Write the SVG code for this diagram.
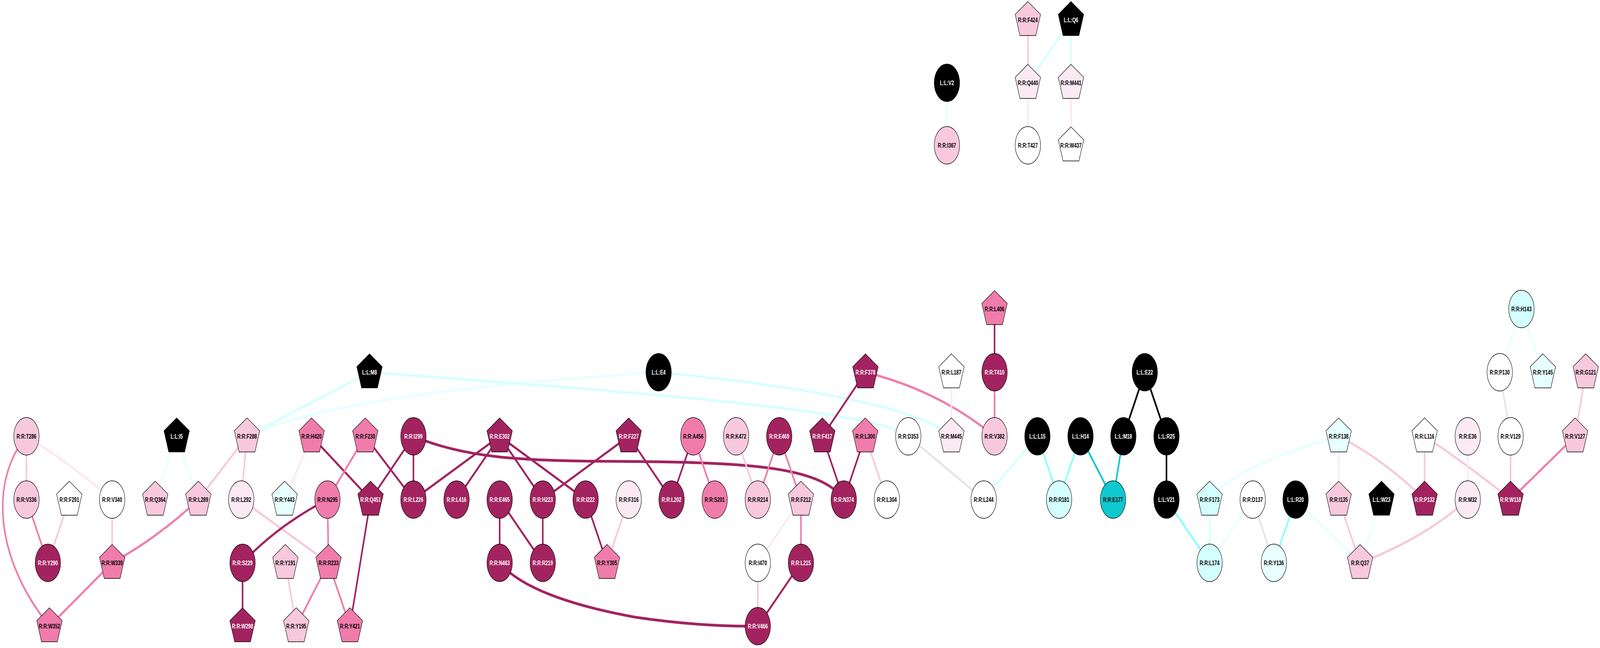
<svg xmlns="http://www.w3.org/2000/svg" xmlns:xlink="http://www.w3.org/1999/xlink" width="6049" height="1659" viewBox="0 0 6049 1659" preserveAspectRatio="none">
<style>
svg{width:100vw;height:100vh;overflow:hidden}
.e{fill:none;stroke-width:6}
.dk{stroke:#A2235F}.mp{stroke:#F07CAB}.lp{stroke:#F8C8DC}.vlp{stroke:#FCE8F1}
.gy{stroke:#E5E5E5}.c{stroke:#88FFFF}.lc{stroke:#D4FFFF}.vlc{stroke:#E6FFFF}.tl{stroke:#10C8D0}.bk{stroke:#000}
.n ellipse,.n use{stroke:#000;stroke-width:1.5}
.fdk{fill:#A2235F}.fmp{fill:#F07CAB}.flp{fill:#F8C8DC}.fvlp{fill:#FCEAF2}.fw{fill:#FFFFFF}
.flc{fill:#D4FFFF}.fvlc{fill:#E8FFFF}.ftl{fill:#10C8D0}.fbk{fill:#000}
text{font-family:"Liberation Sans",Arial,sans-serif;font-weight:bold;font-size:17px;text-anchor:middle;fill:#000}
text.w{fill:#FFF}
</style>
<defs>
<polygon id="pent" points="0,-47 48,-14 30,40 -30,40 -48,-14"/>
</defs>
<rect width="6049" height="1659" fill="#FFF"/>
<g id="edges">
<path class="e lp" d="M100,1117 L100,1279"/>
<path class="e vlp" d="M100,1117 Q262,1185 424,1279"/>
<path class="e mp" d="M100,1117 C-40,1230 -20,1430 187,1603"/>
<path class="e mp" d="M100,1279 L181,1441"/>
<path class="e lp" d="M262,1279 L181,1441"/>
<path class="e lp" d="M424,1279 L424,1441"/>
<path class="e mp" d="M424,1441 L187,1603"/>
<path class="e mp" d="M750,1279 Q600,1375 424,1441"/>
<path class="e vlc" d="M668,1117 L587,1279"/>
<path class="e vlc" d="M668,1117 L750,1279"/>
<path class="e lp" d="M934,1117 L750,1279"/>
<path class="e lp" d="M934,1117 L912,1279"/>
<path class="e lc" d="M1397,953 L934,1117"/>
<path class="e vlc" d="M2490,953 C2000,975 1250,1015 934,1117"/>
<path class="e lc" d="M1397,953 C2300,1000 3300,1045 3434,1117"/>
<path class="e lc" d="M2490,953 C2900,980 3450,1030 3597,1117"/>
<path class="e vlp" d="M1178,1117 L1076,1279"/>
<path class="e dk" d="M1178,1117 L1401,1279"/>
<path class="e mp" d="M1381,1117 L1238,1279"/>
<path class="e dk" d="M1381,1117 L1563,1279"/>
<path class="e dk" d="M1563,1117 L1401,1279"/>
<path class="e dk" d="M1563,1117 L1563,1279"/>
<path class="e lp" d="M912,1279 L1242,1441"/>
<path class="e dk" d="M1238,1279 Q1050,1345 917,1441"/>
<path class="e mp" d="M1238,1279 L1242,1441"/>
<path class="e dk" d="M1401,1279 L1323,1603"/>
<path class="e dk" d="M917,1441 L917,1603"/>
<path class="e lp" d="M1079,1441 L1120,1603"/>
<path class="e mp" d="M1242,1441 L1120,1603"/>
<path class="e mp" d="M1242,1441 L1323,1603"/>
<path class="e dk" d="M1889,1117 L1563,1279"/>
<path class="e dk" d="M1889,1117 L1726,1279"/>
<path class="e dk" d="M1889,1117 L2052,1279"/>
<path class="e dk" d="M1889,1117 L2214,1279"/>
<path class="e dk" style="stroke-width:7" d="M1563,1117 C1750,1170 1950,1180 2300,1181 C2800,1183 3100,1190 3190,1279"/>
<path class="e dk" d="M2377,1117 L2052,1279"/>
<path class="e dk" d="M1889,1279 L1889,1441"/>
<path class="e dk" d="M1889,1279 L2052,1441"/>
<path class="e dk" d="M2052,1279 L2052,1441"/>
<path class="e dk" d="M2214,1279 L2295,1441"/>
<path class="e lp" d="M2377,1279 L2295,1441"/>
<path class="e dk" style="stroke-width:7" d="M1889,1441 Q2000,1530 2400,1580 Q2650,1605 2865,1603"/>
<path class="e dk" d="M2377,1117 L2539,1279"/>
<path class="e dk" d="M2621,1117 L2539,1279"/>
<path class="e mp" d="M2621,1117 L2702,1279"/>
<path class="e lp" d="M2783,1117 L2865,1279"/>
<path class="e mp" d="M2946,1117 L2865,1279"/>
<path class="e mp" d="M2946,1117 L3028,1279"/>
<path class="e dk" d="M3109,1117 L3190,1279"/>
<path class="e dk" d="M3272,953 L3109,1117"/>
<path class="e vlp" d="M3028,1279 L2865,1441"/>
<path class="e mp" d="M3028,1279 L3028,1441"/>
<path class="e lp" d="M2865,1441 L2865,1603"/>
<path class="e dk" d="M3028,1441 L2865,1603"/>
<path class="e dk" d="M3271,1117 L3190,1279"/>
<path class="e lp" d="M3271,1117 L3353,1279"/>
<path class="e gy" d="M3434,1117 L3719,1279"/>
<path class="e lc" d="M3922,1117 L3719,1279"/>
<path class="e c" d="M3922,1117 L4004,1279"/>
<path class="e mp" d="M3272,953 Q3550,1000 3760,1117"/>
<path class="e dk" d="M3760,791 L3760,953"/>
<path class="e mp" d="M3760,953 L3760,1117"/>
<path class="e vlp" d="M3597,953 L3597,1117"/>
<path class="e bk" d="M4328,953 L4247,1117"/>
<path class="e bk" d="M4328,953 L4410,1117"/>
<path class="e c" d="M4085,1117 L4004,1279"/>
<path class="e tl" d="M4085,1117 L4208,1279"/>
<path class="e tl" d="M4247,1117 L4208,1279"/>
<path class="e bk" d="M4410,1117 L4410,1279"/>
<path class="e c" d="M4410,1279 L4573,1441"/>
<path class="e lc" d="M4573,1279 L4573,1441"/>
<path class="e vlc" d="M4736,1279 L4573,1441"/>
<path class="e gy" d="M4736,1279 L4816,1441"/>
<path class="e vlc" d="M4573,1279 Q4660,1195 5061,1117"/>
<path class="e vlp" d="M5061,1117 L5061,1279"/>
<path class="e lp" d="M5061,1117 Q5235,1178 5386,1279"/>
<path class="e lp" d="M5386,1117 L5386,1279"/>
<path class="e lp" d="M5386,1117 Q5560,1195 5711,1279"/>
<path class="e vlp" d="M5549,1117 L5549,1279"/>
<path class="e c" d="M4898,1279 L4816,1441"/>
<path class="e vlc" d="M4898,1279 L5142,1441"/>
<path class="e lp" d="M5061,1279 L5142,1441"/>
<path class="e vlc" d="M5223,1279 L5142,1441"/>
<path class="e lp" d="M5549,1279 Q5380,1380 5142,1441"/>
<path class="e vlc" d="M5752,791 L5670,953"/>
<path class="e vlc" d="M5752,791 L5833,953"/>
<path class="e gy" d="M5670,953 L5711,1117"/>
<path class="e lp" d="M5711,1117 L5711,1279"/>
<path class="e lp" d="M5995,953 L5955,1117"/>
<path class="e mp" d="M5955,1117 L5711,1279"/>
<path class="e vlc" d="M3580,212 L3580,372"/>
<path class="e lp" d="M3886,51 L3886,212"/>
<path class="e lc" d="M4049,51 L3886,212"/>
<path class="e lc" d="M4049,51 L4049,212"/>
<path class="e vlp" d="M3886,212 L3886,372"/>
<path class="e vlp" d="M4049,212 L4049,372"/>
</g>
<g id="n-T286" class="n" transform="translate(100,1117)"><ellipse rx="48" ry="48" class="flp"/><text dy="6">R:R:T286</text></g>
<g id="n-V336" class="n" transform="translate(100,1279)"><ellipse rx="48" ry="48" class="flp"/><text dy="6">R:R:V336</text></g>
<g id="n-F291" class="n" transform="translate(262,1279)"><use xlink:href="#pent" class="fw"/><text dy="6">R:R:F291</text></g>
<g id="n-V340" class="n" transform="translate(424,1279)"><ellipse rx="48" ry="48" class="fw"/><text dy="6">R:R:V340</text></g>
<g id="n-Q364" class="n" transform="translate(587,1279)"><use xlink:href="#pent" class="flp"/><text dy="6">R:R:Q364</text></g>
<g id="n-L289" class="n" transform="translate(750,1279)"><use xlink:href="#pent" class="flp"/><text dy="6">R:R:L289</text></g>
<g id="n-I5" class="n" transform="translate(668,1117)"><use xlink:href="#pent" class="fbk"/><text dy="6" class="w">L:L:I5</text></g>
<g id="n-Y290" class="n" transform="translate(181,1441)"><ellipse rx="48" ry="48" class="fdk"/><text dy="6" class="w">R:R:Y290</text></g>
<g id="n-W339" class="n" transform="translate(424,1441)"><use xlink:href="#pent" class="fmp"/><text dy="6">R:R:W339</text></g>
<g id="n-W352" class="n" transform="translate(187,1603)"><use xlink:href="#pent" class="fmp"/><text dy="6">R:R:W352</text></g>
<g id="n-F288" class="n" transform="translate(934,1117)"><use xlink:href="#pent" class="flp"/><text dy="6">R:R:F288</text></g>
<g id="n-H420" class="n" transform="translate(1178,1117)"><use xlink:href="#pent" class="fmp"/><text dy="6">R:R:H420</text></g>
<g id="n-F230" class="n" transform="translate(1381,1117)"><use xlink:href="#pent" class="fmp"/><text dy="6">R:R:F230</text></g>
<g id="n-I299" class="n" transform="translate(1563,1117)"><ellipse rx="48" ry="48" class="fdk"/><text dy="6" class="w">R:R:I299</text></g>
<g id="n-L292" class="n" transform="translate(912,1279)"><ellipse rx="48" ry="48" class="fvlp"/><text dy="6">R:R:L292</text></g>
<g id="n-Y443" class="n" transform="translate(1076,1279)"><use xlink:href="#pent" class="fvlc"/><text dy="6">R:R:Y443</text></g>
<g id="n-N295" class="n" transform="translate(1238,1279)"><ellipse rx="48" ry="48" class="fmp"/><text dy="6">R:R:N295</text></g>
<g id="n-Q451" class="n" transform="translate(1401,1279)"><use xlink:href="#pent" class="fdk"/><text dy="6" class="w">R:R:Q451</text></g>
<g id="n-L226" class="n" transform="translate(1563,1279)"><ellipse rx="48" ry="48" class="fdk"/><text dy="6" class="w">R:R:L226</text></g>
<g id="n-S229" class="n" transform="translate(917,1441)"><ellipse rx="48" ry="48" class="fdk"/><text dy="6" class="w">R:R:S229</text></g>
<g id="n-Y191" class="n" transform="translate(1079,1441)"><use xlink:href="#pent" class="flp"/><text dy="6">R:R:Y191</text></g>
<g id="n-R233" class="n" transform="translate(1242,1441)"><use xlink:href="#pent" class="fmp"/><text dy="6">R:R:R233</text></g>
<g id="n-W298" class="n" transform="translate(917,1603)"><use xlink:href="#pent" class="fdk"/><text dy="6" class="w">R:R:W298</text></g>
<g id="n-Y195" class="n" transform="translate(1120,1603)"><use xlink:href="#pent" class="flp"/><text dy="6">R:R:Y195</text></g>
<g id="n-Y421" class="n" transform="translate(1323,1603)"><use xlink:href="#pent" class="fmp"/><text dy="6">R:R:Y421</text></g>
<g id="n-E302" class="n" transform="translate(1889,1117)"><use xlink:href="#pent" class="fdk"/><text dy="6" class="w">R:R:E302</text></g>
<g id="n-F227" class="n" transform="translate(2377,1117)"><use xlink:href="#pent" class="fdk"/><text dy="6" class="w">R:R:F227</text></g>
<g id="n-L416" class="n" transform="translate(1726,1279)"><ellipse rx="48" ry="48" class="fdk"/><text dy="6" class="w">R:R:L416</text></g>
<g id="n-E465" class="n" transform="translate(1889,1279)"><ellipse rx="48" ry="48" class="fdk"/><text dy="6" class="w">R:R:E465</text></g>
<g id="n-H223" class="n" transform="translate(2052,1279)"><ellipse rx="48" ry="48" class="fdk"/><text dy="6" class="w">R:R:H223</text></g>
<g id="n-I222" class="n" transform="translate(2214,1279)"><ellipse rx="48" ry="48" class="fdk"/><text dy="6" class="w">R:R:I222</text></g>
<g id="n-F316" class="n" transform="translate(2377,1279)"><ellipse rx="48" ry="48" class="fvlp"/><text dy="6">R:R:F316</text></g>
<g id="n-N463" class="n" transform="translate(1889,1441)"><ellipse rx="48" ry="48" class="fdk"/><text dy="6" class="w">R:R:N463</text></g>
<g id="n-R219" class="n" transform="translate(2052,1441)"><ellipse rx="48" ry="48" class="fdk"/><text dy="6" class="w">R:R:R219</text></g>
<g id="n-Y305" class="n" transform="translate(2295,1441)"><use xlink:href="#pent" class="fmp"/><text dy="6">R:R:Y305</text></g>
<g id="n-A456" class="n" transform="translate(2621,1117)"><ellipse rx="48" ry="48" class="fmp"/><text dy="6">R:R:A456</text></g>
<g id="n-K472" class="n" transform="translate(2783,1117)"><ellipse rx="48" ry="48" class="flp"/><text dy="6">R:R:K472</text></g>
<g id="n-E469" class="n" transform="translate(2946,1117)"><ellipse rx="48" ry="48" class="fdk"/><text dy="6" class="w">R:R:E469</text></g>
<g id="n-F417" class="n" transform="translate(3109,1117)"><use xlink:href="#pent" class="fdk"/><text dy="6" class="w">R:R:F417</text></g>
<g id="n-L202" class="n" transform="translate(2539,1279)"><ellipse rx="48" ry="48" class="fdk"/><text dy="6" class="w">R:R:L202</text></g>
<g id="n-S201" class="n" transform="translate(2702,1279)"><ellipse rx="48" ry="48" class="fmp"/><text dy="6">R:R:S201</text></g>
<g id="n-R214" class="n" transform="translate(2865,1279)"><ellipse rx="48" ry="48" class="flp"/><text dy="6">R:R:R214</text></g>
<g id="n-F212" class="n" transform="translate(3028,1279)"><use xlink:href="#pent" class="flp"/><text dy="6">R:R:F212</text></g>
<g id="n-N374" class="n" transform="translate(3190,1279)"><ellipse rx="48" ry="48" class="fdk"/><text dy="6" class="w">R:R:N374</text></g>
<g id="n-I470" class="n" transform="translate(2865,1441)"><ellipse rx="48" ry="48" class="fw"/><text dy="6">R:R:I470</text></g>
<g id="n-L215" class="n" transform="translate(3028,1441)"><ellipse rx="48" ry="48" class="fdk"/><text dy="6" class="w">R:R:L215</text></g>
<g id="n-V466" class="n" transform="translate(2865,1603)"><ellipse rx="48" ry="48" class="fdk"/><text dy="6" class="w">R:R:V466</text></g>
<g id="n-L300" class="n" transform="translate(3271,1117)"><use xlink:href="#pent" class="fmp"/><text dy="6">R:R:L300</text></g>
<g id="n-D353" class="n" transform="translate(3434,1117)"><ellipse rx="48" ry="48" class="fw"/><text dy="6">R:R:D353</text></g>
<g id="n-M445" class="n" transform="translate(3597,1117)"><use xlink:href="#pent" class="fvlp"/><text dy="6">R:R:M445</text></g>
<g id="n-V382" class="n" transform="translate(3760,1117)"><ellipse rx="48" ry="48" class="flp"/><text dy="6">R:R:V382</text></g>
<g id="n-L15" class="n" transform="translate(3922,1117)"><ellipse rx="48" ry="48" class="fbk"/><text dy="6" class="w">L:L:L15</text></g>
<g id="n-L304" class="n" transform="translate(3353,1279)"><ellipse rx="48" ry="48" class="fw"/><text dy="6">R:R:L304</text></g>
<g id="n-L244" class="n" transform="translate(3719,1279)"><ellipse rx="48" ry="48" class="fw"/><text dy="6">R:R:L244</text></g>
<g id="n-R181" class="n" transform="translate(4004,1279)"><ellipse rx="48" ry="48" class="flc"/><text dy="6">R:R:R181</text></g>
<g id="n-H14" class="n" transform="translate(4085,1117)"><ellipse rx="48" ry="48" class="fbk"/><text dy="6" class="w">L:L:H14</text></g>
<g id="n-M18" class="n" transform="translate(4247,1117)"><ellipse rx="48" ry="48" class="fbk"/><text dy="6" class="w">L:L:M18</text></g>
<g id="n-R25" class="n" transform="translate(4410,1117)"><ellipse rx="48" ry="48" class="fbk"/><text dy="6" class="w">L:L:R25</text></g>
<g id="n-E177" class="n" transform="translate(4208,1279)"><ellipse rx="48" ry="48" class="ftl"/><text dy="6">R:R:E177</text></g>
<g id="n-V21" class="n" transform="translate(4410,1279)"><ellipse rx="48" ry="48" class="fbk"/><text dy="6" class="w">L:L:V21</text></g>
<g id="n-F173" class="n" transform="translate(4573,1279)"><use xlink:href="#pent" class="flc"/><text dy="6">R:R:F173</text></g>
<g id="n-D137" class="n" transform="translate(4736,1279)"><ellipse rx="48" ry="48" class="fw"/><text dy="6">R:R:D137</text></g>
<g id="n-L174" class="n" transform="translate(4573,1441)"><ellipse rx="48" ry="48" class="flc"/><text dy="6">R:R:L174</text></g>
<g id="n-Y136" class="n" transform="translate(4816,1441)"><ellipse rx="48" ry="48" class="fvlc"/><text dy="6">R:R:Y136</text></g>
<g id="n-F138" class="n" transform="translate(5061,1117)"><use xlink:href="#pent" class="fvlc"/><text dy="6">R:R:F138</text></g>
<g id="n-L116" class="n" transform="translate(5386,1117)"><use xlink:href="#pent" class="fw"/><text dy="6">R:R:L116</text></g>
<g id="n-E36" class="n" transform="translate(5549,1117)"><ellipse rx="48" ry="48" class="fvlp"/><text dy="6">R:R:E36</text></g>
<g id="n-R20" class="n" transform="translate(4898,1279)"><ellipse rx="48" ry="48" class="fbk"/><text dy="6" class="w">L:L:R20</text></g>
<g id="n-I135" class="n" transform="translate(5061,1279)"><use xlink:href="#pent" class="flp"/><text dy="6">R:R:I135</text></g>
<g id="n-W23" class="n" transform="translate(5223,1279)"><use xlink:href="#pent" class="fbk"/><text dy="6" class="w">L:L:W23</text></g>
<g id="n-P132" class="n" transform="translate(5386,1279)"><use xlink:href="#pent" class="fdk"/><text dy="6" class="w">R:R:P132</text></g>
<g id="n-M32" class="n" transform="translate(5549,1279)"><ellipse rx="48" ry="48" class="fvlp"/><text dy="6">R:R:M32</text></g>
<g id="n-Q37" class="n" transform="translate(5142,1441)"><use xlink:href="#pent" class="flp"/><text dy="6">R:R:Q37</text></g>
<g id="n-H143" class="n" transform="translate(5752,791)"><ellipse rx="48" ry="48" class="flc"/><text dy="6">R:R:H143</text></g>
<g id="n-P130" class="n" transform="translate(5670,953)"><ellipse rx="48" ry="48" class="fw"/><text dy="6">R:R:P130</text></g>
<g id="n-Y145" class="n" transform="translate(5833,953)"><use xlink:href="#pent" class="fvlc"/><text dy="6">R:R:Y145</text></g>
<g id="n-G121" class="n" transform="translate(5995,953)"><use xlink:href="#pent" class="flp"/><text dy="6">R:R:G121</text></g>
<g id="n-V129" class="n" transform="translate(5711,1117)"><ellipse rx="48" ry="48" class="fw"/><text dy="6">R:R:V129</text></g>
<g id="n-V127" class="n" transform="translate(5955,1117)"><use xlink:href="#pent" class="flp"/><text dy="6">R:R:V127</text></g>
<g id="n-W118" class="n" transform="translate(5711,1279)"><use xlink:href="#pent" class="fdk"/><text dy="6" class="w">R:R:W118</text></g>
<g id="n-V2" class="n" transform="translate(3580,212)"><ellipse rx="48" ry="48" class="fbk"/><text dy="6" class="w">L:L:V2</text></g>
<g id="n-I367" class="n" transform="translate(3580,372)"><ellipse rx="48" ry="48" class="flp"/><text dy="6">R:R:I367</text></g>
<g id="n-F424" class="n" transform="translate(3886,51)"><use xlink:href="#pent" class="flp"/><text dy="6">R:R:F424</text></g>
<g id="n-Q6" class="n" transform="translate(4049,51)"><use xlink:href="#pent" class="fbk"/><text dy="6" class="w">L:L:Q6</text></g>
<g id="n-Q440" class="n" transform="translate(3886,212)"><use xlink:href="#pent" class="fvlp"/><text dy="6">R:R:Q440</text></g>
<g id="n-M441" class="n" transform="translate(4049,212)"><use xlink:href="#pent" class="fvlp"/><text dy="6">R:R:M441</text></g>
<g id="n-T427" class="n" transform="translate(3886,372)"><ellipse rx="48" ry="48" class="fw"/><text dy="6">R:R:T427</text></g>
<g id="n-W437" class="n" transform="translate(4049,372)"><use xlink:href="#pent" class="fw"/><text dy="6">R:R:W437</text></g>
<g id="n-M8" class="n" transform="translate(1397,953)"><use xlink:href="#pent" class="fbk"/><text dy="6" class="w">L:L:M8</text></g>
<g id="n-E4" class="n" transform="translate(2490,953)"><ellipse rx="48" ry="48" class="fbk"/><text dy="6" class="w">L:L:E4</text></g>
<g id="n-F378" class="n" transform="translate(3272,953)"><use xlink:href="#pent" class="fdk"/><text dy="6" class="w">R:R:F378</text></g>
<g id="n-L187" class="n" transform="translate(3597,953)"><use xlink:href="#pent" class="fw"/><text dy="6">R:R:L187</text></g>
<g id="n-L406" class="n" transform="translate(3760,791)"><use xlink:href="#pent" class="fmp"/><text dy="6">R:R:L406</text></g>
<g id="n-T410" class="n" transform="translate(3760,953)"><ellipse rx="48" ry="48" class="fdk"/><text dy="6" class="w">R:R:T410</text></g>
<g id="n-E22" class="n" transform="translate(4328,953)"><ellipse rx="48" ry="48" class="fbk"/><text dy="6" class="w">L:L:E22</text></g>
</svg>
